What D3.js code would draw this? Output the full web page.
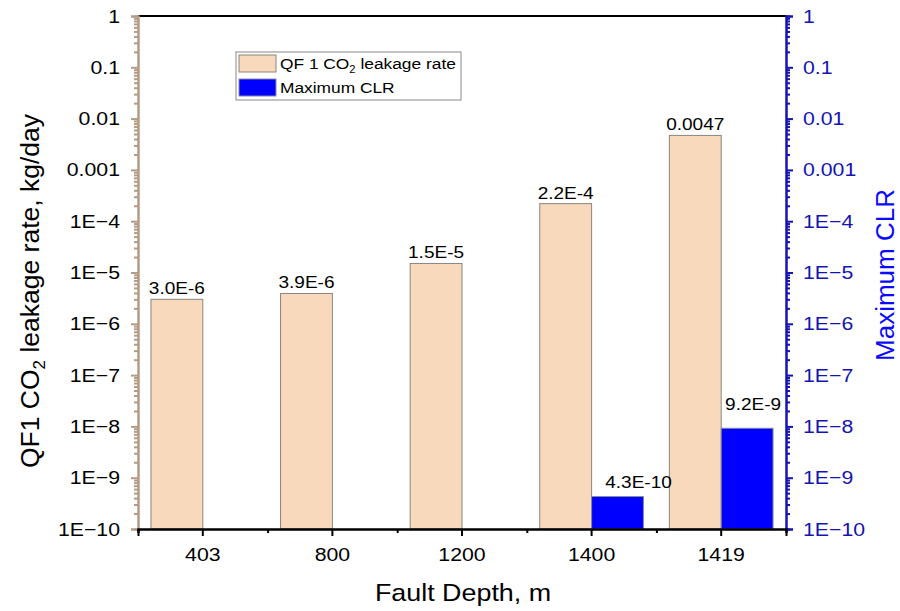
<!DOCTYPE html>
<html>
<head>
<meta charset="utf-8">
<script src="https://cdn.jsdelivr.net/npm/d3@7"></script>
<style>
  body { margin: 0; background: #fff; }
  svg text { font-family: "Liberation Sans", Arial, sans-serif; }
</style>
</head>
<body>
<div id="chart"></div>
<script>
// chart values
var depths = ["403", "800", "1200", "1400", "1419"]
var leakRate = [3.0e-6, 3.9e-6, 1.5e-5, 2.2e-4, 0.0047]
var leakLabels = ["3.0E-6", "3.9E-6", "1.5E-5", "2.2E-4", "0.0047"]
var maxCLR = [null, null, null, 4.3e-10, 9.2e-9]
var clrLabels = [null, null, null, "4.3E-10", "9.2E-9"]
var decades = [1e-10, 1e-9, 1e-8, 1e-7, 1e-6, 1e-5, 1e-4, 1e-3, 1e-2, 1e-1, 1]
var decadeLabels = ["1E\u221210", "1E\u22129", "1E\u22128", "1E\u22127", "1E\u22126", "1E\u22125", "1E\u22124", "0.001", "0.01", "0.1", "1"]

// hand placed nudges for the blue labels (dx, gap above bar)
var clrLabelShift = [null, null, null, [21, 9], [6, 18]]

var W = 900, H = 611
var mLeft = 138, mRight = 786, mTop = 16, mBottom = 529
var sx = 1.12 // the picture's text is a bit wide

var tan = "#b39c86"
var navy = "#1414b4"

var svg = d3.select("#chart").append("svg")
  .attr("width", W)
  .attr("height", H)

var x = d3.scaleBand().domain(depths).range([mLeft, mRight]).padding(0)
var y = d3.scaleLog().domain([1e-10, 1]).range([mBottom, mTop])
var y2 = d3.scaleLog().domain([1e-10, 1]).range([mBottom, mTop])
var barW = x.bandwidth() * 0.4

// stretch a text sideways around its anchor point
function widen(sel) {
  sel.each(function() {
    var t = d3.select(this)
    var ax = +t.attr("x") || 0
    var old = t.attr("transform") || ""
    t.attr("transform", old + " translate(" + ax + ",0) scale(" + sx + ",1) translate(" + (-ax) + ",0)")
  })
}

// minor ticks 2..9 in each decade
var minor = []
decades.slice(0, -1).forEach(function(d) {
  for (var k = 2; k <= 9; k++) minor.push(d * k)
})

// bars
var g = svg.append("g")
g.selectAll(".leak").data(leakRate).enter().append("rect")
  .attr("class", "leak")
  .attr("x", function(d, i) { return x(depths[i]) + x.bandwidth() / 2 - barW })
  .attr("y", function(d) { return y(d) })
  .attr("width", barW)
  .attr("height", function(d) { return mBottom - y(d) })
  .attr("fill", "#f9d9bc")
  .attr("stroke", "#8a8580")
  .attr("stroke-width", 1)

maxCLR.forEach(function(d, i) {
  if (d == null) return
  g.append("rect")
    .attr("class", "clr")
    .attr("x", x(depths[i]) + x.bandwidth() / 2)
    .attr("y", y2(d))
    .attr("width", barW)
    .attr("height", mBottom - y2(d))
    .attr("fill", "#0000ff")
    .attr("stroke", "#8a8a9a")
    .attr("stroke-width", 1)
})

// bar value labels
leakRate.forEach(function(d, i) {
  svg.append("text")
    .attr("class", "vlab")
    .attr("x", x(depths[i]) + x.bandwidth() / 2 - barW / 2)
    .attr("y", y(d) - 5)
    .attr("text-anchor", "middle")
    .attr("font-size", 17)
    .attr("fill", "#000")
    .text(leakLabels[i])
})
maxCLR.forEach(function(d, i) {
  if (d == null) return
  svg.append("text")
    .attr("class", "vlab")
    .attr("x", x(depths[i]) + x.bandwidth() / 2 + barW / 2 + clrLabelShift[i][0])
    .attr("y", y2(d) - clrLabelShift[i][1])
    .attr("text-anchor", "middle")
    .attr("font-size", 17)
    .attr("fill", "#000")
    .text(clrLabels[i])
})
widen(svg.selectAll(".vlab"))

// top frame line
svg.append("line")
  .attr("x1", mLeft).attr("x2", mRight)
  .attr("y1", mTop).attr("y2", mTop)
  .attr("stroke", "#000").attr("stroke-width", 2)

// left axis
var yAxis = svg.append("g").attr("transform", "translate(" + mLeft + ",0)")
  .call(d3.axisLeft(y).tickValues(decades).tickSize(7).tickPadding(11)
    .tickFormat(function(d, i) { return decadeLabels[i] }))
yAxis.append("g").call(d3.axisLeft(y).tickValues(minor).tickSize(4).tickFormat(""))
yAxis.selectAll("path.domain").attr("stroke", tan).attr("stroke-width", 2)
yAxis.selectAll(".tick line").attr("stroke", tan).attr("stroke-width", 2)
yAxis.selectAll("text").attr("font-size", 19).attr("fill", "#000")
  .style("font-family", "Liberation Sans, Arial, sans-serif")
widen(yAxis.selectAll("text"))

// right axis
var yAxis2 = svg.append("g").attr("transform", "translate(" + mRight + ",0)")
  .call(d3.axisRight(y2).tickValues(decades).tickSize(7).tickPadding(10)
    .tickFormat(function(d, i) { return decadeLabels[i] }))
yAxis2.append("g").call(d3.axisRight(y2).tickValues(minor).tickSize(4).tickFormat(""))
yAxis2.selectAll("path.domain").attr("stroke", navy).attr("stroke-width", 2)
yAxis2.selectAll(".tick line").attr("stroke", navy).attr("stroke-width", 2)
yAxis2.selectAll("text").attr("font-size", 19).attr("fill", navy)
  .style("font-family", "Liberation Sans, Arial, sans-serif")
widen(yAxis2.selectAll("text"))

// bottom axis
var xAxis = svg.append("g").attr("transform", "translate(0," + mBottom + ")")
  .call(d3.axisBottom(x).tickSize(7).tickPadding(12))
var edges = d3.scaleLinear().domain([0, depths.length]).range([mLeft, mRight])
xAxis.append("g").call(d3.axisBottom(edges).tickValues(d3.range(depths.length + 1)).tickSize(4).tickFormat(""))
xAxis.selectAll("path.domain").attr("stroke", "#000").attr("stroke-width", 2)
xAxis.selectAll(".tick line").attr("stroke", "#000").attr("stroke-width", 2)
xAxis.selectAll("text").attr("font-size", 19).attr("fill", "#000")
  .style("font-family", "Liberation Sans, Arial, sans-serif")
widen(xAxis.selectAll("text"))

// axis titles
svg.append("text")
  .attr("class", "xtitle")
  .attr("x", 463)
  .attr("y", 601)
  .attr("text-anchor", "middle")
  .attr("font-size", 24)
  .text("Fault Depth, m")
widen(svg.selectAll(".xtitle"))

var yt = svg.append("text")
  .attr("transform", "translate(39,291) rotate(-90)")
  .attr("text-anchor", "middle")
  .attr("font-size", 26.5)
yt.append("tspan").text("QF1 CO")
yt.append("tspan").attr("font-size", 17).attr("dy", 6).text("2")
yt.append("tspan").attr("dy", -6).text(" leakage rate, kg/day")

svg.append("text")
  .attr("transform", "translate(894,275) rotate(-90)")
  .attr("text-anchor", "middle")
  .attr("font-size", 26)
  .attr("fill", "#0a0aff")
  .text("Maximum CLR")

// legend
var lg = svg.append("g")
lg.append("rect")
  .attr("x", 236).attr("y", 52).attr("width", 225).attr("height", 48)
  .attr("fill", "#fff").attr("stroke", "#888").attr("stroke-width", 1)
lg.append("rect")
  .attr("x", 239).attr("y", 55).attr("width", 37).attr("height", 17)
  .attr("fill", "#f9d9bc").attr("stroke", "#8a8580")
lg.append("rect")
  .attr("x", 239).attr("y", 79).attr("width", 37).attr("height", 17)
  .attr("fill", "#0000ff").attr("stroke", "#8a8a9a")
var l1 = lg.append("text").attr("class", "ltxt").attr("x", 280).attr("y", 69).attr("font-size", 15.5)
l1.append("tspan").text("QF 1 CO")
l1.append("tspan").attr("font-size", 10).attr("dy", 4).text("2")
l1.append("tspan").attr("dy", -4).text(" leakage rate")
lg.append("text").attr("class", "ltxt").attr("x", 280).attr("y", 93).attr("font-size", 15.5).text("Maximum CLR")
widen(lg.selectAll(".ltxt"))
</script>
</body>
</html>
